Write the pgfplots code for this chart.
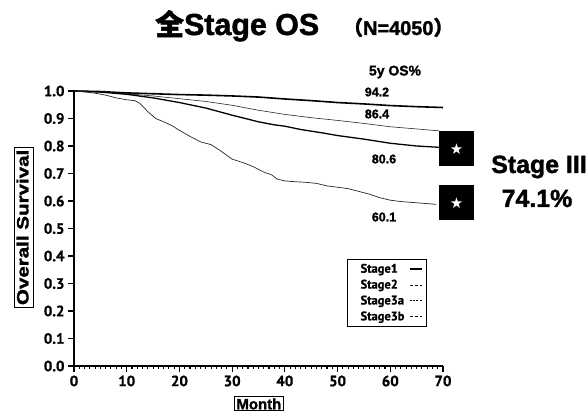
\documentclass[border=0pt]{standalone}
\usepackage{fontspec}
\setmainfont{Liberation Sans}
\newfontfamily\heavy{Liberation Sans}[UprightFont={* Bold}, BoldFont={* Bold}, FakeBold=1.5]
\newfontfamily\cjk{Noto Sans CJK SC}[FakeBold=1.5]
\newfontfamily\ptsans{PT Sans}[FakeBold=0.8]
\newfontfamily\djv{DejaVu Sans}
\usepackage{pgfplots}
\pgfplotsset{compat=1.18}

\begin{document}
\begin{tikzpicture}
\useasboundingbox (0,0) rectangle (588bp,413bp);
\begin{axis}[
  at={(74bp,47bp)}, anchor=south west,
  scale only axis, width=369bp, height=275bp,
  xmin=0, xmax=70, ymin=0, ymax=1,
  axis x line*=bottom, axis y line*=left,
  axis line style={line width=1.2bp, black},
  xtick={0,10,20,30,40,50,60,70}, minor x tick num=9,
  ytick={0,0.1,0.2,0.3,0.4,0.5,0.6,0.7,0.8,0.9,1.0},
  yticklabel style={/pgf/number format/fixed, /pgf/number format/fixed zerofill, /pgf/number format/precision=1},
  tick align=outside,
  major tick length=6bp, minor tick length=3bp,
  every tick/.style={line width=1.1bp, black},
  ticklabel style={font=\ptsans\bfseries\fontsize{15}{15}\selectfont},
  /pgf/number format/assume math mode=true,
  clip=false,
  xlabel={Month},
  xlabel style={draw, line width=1bp, inner xsep=2bp, inner ysep=1.5bp, font=\heavy\fontsize{15}{15}\selectfont, at={(axis description cs:0.501,-0.138)}, anchor=center},
  ylabel={\scalebox{1.25}[1]{Overall Survival}},
  ylabel style={draw, line width=1bp, inner xsep=2bp, inner ysep=2bp, text depth=3bp, font=\heavy\fontsize{16.5}{16.5}\selectfont, at={(axis description cs:-0.1355,0.504)}, anchor=center},
  legend style={at={(axis description cs:0.740,0.39)}, anchor=north west, draw=black, line width=1.1bp, font=\ptsans\bfseries\fontsize{12.5}{14}\selectfont, row sep=3.5bp, inner xsep=4bp, inner ysep=3.5bp, nodes={inner sep=1bp}, /tikz/every odd column/.append style={column sep=4bp}},
  legend plot pos=right,
  legend cell align=left,
  legend image code/.code={\draw[#1] (0bp,0bp) -- (12bp,0bp);},
]
% Stage1
\addplot[black, line width=1.6bp, forget plot] coordinates {
(0,1.000) (5,0.998) (10,0.993) (15,0.990) (20,0.987) (25,0.985) (30,0.982) (35,0.978)
(40,0.971) (45,0.965) (50,0.958) (55,0.953) (60,0.947) (65,0.943) (70,0.940)};
% Stage2
\addplot[black!85, line width=0.6bp, forget plot] coordinates {
(0,1.000) (5,0.997) (10,0.990) (15,0.982) (20,0.972) (25,0.962) (30,0.948) (35,0.930)
(40,0.915) (45,0.903) (50,0.893) (55,0.882) (60,0.870) (65,0.862) (69.3,0.855)};
% Stage3a
\addplot[black, line width=1.3bp, forget plot] coordinates {
(0,1.000) (5,0.996) (10,0.988) (15,0.975) (20,0.958) (25,0.938) (30,0.912) (35,0.888)
(38,0.877) (40,0.872) (43,0.860) (47,0.848) (50,0.838) (55,0.825) (60,0.810) (65,0.800) (69.5,0.795)};
% Stage3b
\addplot[black!85, line width=0.7bp, forget plot] coordinates {
(0,1.000) (2,0.997) (4,0.992) (6,0.985) (8,0.975) (10,0.968) (11.5,0.965) (12.5,0.955)
(14,0.925) (15.5,0.900) (17,0.888) (18.5,0.875) (20,0.857) (22,0.835) (24,0.815) (26,0.805)
(28,0.780) (30,0.752) (32,0.740) (34,0.725) (36,0.705) (37.5,0.695) (38.5,0.680) (40,0.673)
(42,0.670) (44,0.668) (46,0.664) (48,0.655) (50,0.650) (52,0.645) (54,0.635) (56,0.625)
(58,0.612) (60,0.603) (62,0.598) (64,0.595) (66,0.592) (68.7,0.588)};
\addlegendimage{black, line width=1.2bp}
\addlegendentry{\hspace{8bp}Stage1}
\addlegendimage{black, line width=0.7bp, dash pattern=on 3bp off 2bp}
\addlegendentry{\hspace{8bp}Stage2}
\addlegendimage{black, line width=0.8bp, dash pattern=on 2bp off 1.2bp}
\addlegendentry{\hspace{8bp}Stage3a}
\addlegendimage{black, line width=0.7bp, dash pattern=on 3bp off 2bp}
\addlegendentry{\hspace{8bp}Stage3b}
\end{axis}
% title
\node[anchor=base west, inner sep=0] at (155bp,378bp)
  {{\cjk\bfseries\fontsize{29}{29}\selectfont 全}{\heavy\fontsize{30.5}{30.5}\selectfont Stage OS}\hspace{24bp}{\cjk\bfseries\fontsize{20}{20}\selectfont （}{\heavy\fontsize{20}{20}\selectfont N=4050}{\cjk\bfseries\fontsize{20}{20}\selectfont ）}};
% annotations
\node[font=\heavy\fontsize{14}{14}\selectfont] at (395bp,341bp) {5y OS\%};
\node[font=\heavy\fontsize{12.5}{12.5}\selectfont] at (377bp,321bp) {94.2};
\node[font=\heavy\fontsize{12.5}{12.5}\selectfont] at (377bp,299bp) {86.4};
\node[font=\heavy\fontsize{12.5}{12.5}\selectfont] at (384bp,254bp) {80.6};
\node[font=\heavy\fontsize{12.5}{12.5}\selectfont] at (384bp,196bp) {60.1};
\node[fill=black, minimum size=35bp, inner sep=0, text=white, font=\djv\fontsize{15}{15}\selectfont] at (456.5bp,264bp) {★};
\node[fill=black, minimum size=35bp, inner sep=0, text=white, font=\djv\fontsize{15}{15}\selectfont] at (456.5bp,210bp) {★};
\node[anchor=base, inner sep=0, font=\heavy\fontsize{25}{25}\selectfont] at (539bp,240bp) {Stage III};
\node[anchor=base, inner sep=0, font=\heavy\fontsize{25}{25}\selectfont] at (537bp,206bp) {74.1\%};
\end{tikzpicture}
\end{document}
